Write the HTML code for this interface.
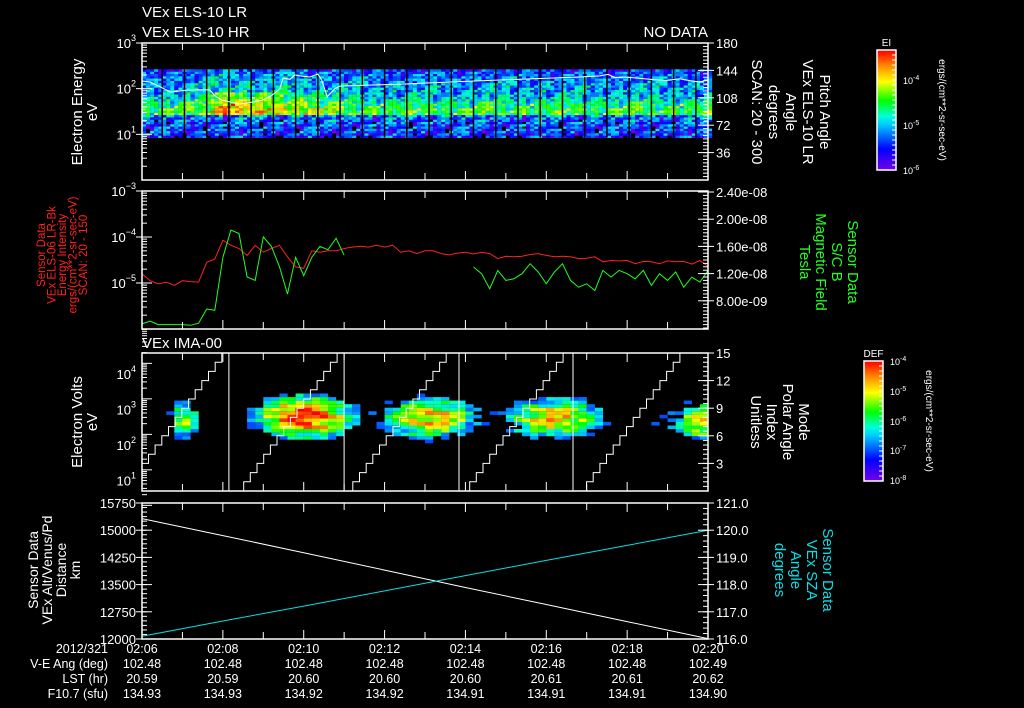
<!DOCTYPE html>
<html><head><meta charset="utf-8"><style>
html,body{margin:0;padding:0;background:#000;}
svg{display:block;font-family:"Liberation Sans",sans-serif;}
</style></head><body>
<svg id="s" width="1024" height="708" viewBox="0 0 1024 708" xmlns="http://www.w3.org/2000/svg">
<rect width="1024" height="708" fill="#000"/>
<g id="txt" fill="#fff" font-size="15">
 <text x="142" y="17">VEx ELS-10 LR</text>
 <text x="142" y="37">VEx ELS-10 HR</text>
 <text x="708" y="37" text-anchor="end">NO DATA</text>
 <text x="142" y="348">VEx IMA-00</text>
</g>
</svg>
<script>
const svgNS="http://www.w3.org/2000/svg";
const S=document.getElementById('s');
// ===== data arrays =====
const timeTicks=["02:06","02:08","02:10","02:12","02:14","02:16","02:18","02:20"];
const veAng=["102.48","102.48","102.48","102.48","102.48","102.48","102.48","102.49"];
const lstHr=["20.59","20.59","20.60","20.60","20.60","20.61","20.61","20.62"];
const f107=["134.93","134.93","134.92","134.92","134.91","134.91","134.91","134.90"];
// panel 2 (sampled every 0.2 min)
const redLogEI=[-4.80,-4.95,-5.02,-4.98,-5.05,-4.95,-4.97,-4.98,-4.55,-4.48,-4.07,-4.18,-4.25,-4.40,-4.18,-4.33,-4.25,-4.18,-4.43,-4.65,-4.68,-4.30,-4.33,-4.30,-4.30,-4.25,-4.22,-4.20,-4.22,-4.18,-4.22,-4.18,-4.33,-4.30,-4.36,-4.30,-4.30,-4.36,-4.39,-4.35,-4.33,-4.37,-4.33,-4.36,-4.47,-4.42,-4.43,-4.42,-4.38,-4.36,-4.40,-4.43,-4.42,-4.43,-4.47,-4.46,-4.43,-4.54,-4.51,-4.52,-4.51,-4.58,-4.53,-4.54,-4.58,-4.52,-4.54,-4.53,-4.59,-4.51,-4.64];
const greenB=[4.6,5.0,4.5,4.5,4.5,4.5,4.4,4.7,6.8,6.6,14.4,18.4,17.9,11.5,11.0,17.4,16.0,13.0,9.0,14.4,11.7,14.4,16.0,15.5,17.2,14.7,null,null,null,null,null,null,null,null,null,null,null,null,null,null,null,12.97,11.98,9.77,12.47,11.0,11.24,11.98,13.46,12.23,10.5,12.23,13.46,11.0,10.0,10.5,9.52,12.47,11.49,12.47,11.98,11.24,12.47,10.26,11.98,11.0,12.23,10.0,11.49,10.75,12.47];
// panel 1 white line
const wT=[0,0.2,0.45,0.7,1.06,1.43,1.68,1.8,1.98,2.42,2.8,2.97,3.2,3.41,3.49,3.66,3.78,3.9,4.15,4.35,4.45,4.58,4.77,4.9,5.39,6.38,7.62,8.85,10.09,10.83,11.33,11.53,11.7,11.95,12.56,12.94,13.3,13.55,13.8,14];
const wE=[147,140,110,84,92,95,94,70,56,46,52,56,70,100,170,160,200,190,180,210,150,66,100,114,118,125,140,155,170,180,190,205,175,180,160,150,165,150,140,155];
const elsLogE=[0.95,1.0,1.05,1.1,1.15,1.2,1.25,1.3,1.35,1.4,1.45,1.5,1.55,1.6,1.65,1.7,1.75,1.8,1.85,1.9,1.95,2.0,2.05,2.1,2.15,2.2,2.25,2.3,2.35,2.4];
const elsProfile=[-5.6,-5.5,-5.45,-5.45,-5.45,-5.4,-5.4,-5.35,-5.3,-5.25,-4.5,-4.45,-4.5,-4.6,-4.65,-4.7,-4.85,-4.95,-5.0,-5.05,-5.05,-5.1,-5.1,-5.1,-5.2,-5.2,-5.25,-5.3,-5.35,-5.45];
const elsBoostT=[0,0.5,1,1.5,1.8,2.2,2.6,3.0,3.5,4.0,4.5,5,6,7,14];
const elsBoost=[0,0,0,0.15,0.65,0.75,0.5,0.4,0.45,0.4,0.2,0.05,0,0,0];
const sweepGaps=[0.5,1.05,1.6,2.15,2.7,3.25,3.8,4.35,4.9,5.45,6.0,6.55,7.1,7.65,8.2,8.75,9.3,9.85,10.4,10.95,11.5,12.05,12.6,13.15,13.7];
const noiseTab=[0.31,-0.42,0.12,0.47,-0.18,-0.05,0.39,-0.33,0.22,-0.47,0.08,0.28,-0.25,0.44,-0.11,0.02,-0.38,0.35,0.15,-0.29,0.41,-0.07,-0.44,0.19,0.26,-0.15,0.05,-0.36,0.48,-0.22,0.11,0.33,-0.02,-0.49,0.24,-0.31,0.17];
// panel 3 ion blobs
const blobT=[1.06,4.03,7.12,10.2,13.9];
const blobLogE=[2.70,2.79,2.76,2.76,2.65];
const blobPeak=[-5.4,-4.2,-4.8,-4.9,-5.0];
const blobSpreadT=[0.3,0.9,0.95,1.0,0.6];
const haloSpreadT=[0.5,1.6,1.6,1.6,1.2];
const cycleStart=[-0.5,2.35,5.05,7.94,10.83];
const resetT=[2.15,5.0,7.84,10.66];
const stepDur=0.165;
// panel 4
const altT=[0,2,4,6,8,10,12,14];
const altKm=[15320,14850,14380,13900,13420,12950,12480,12010];
const szaDeg=[116.1,116.66,117.21,117.77,118.33,118.89,119.44,120.0];

// ===== helpers =====
function el(tag,attrs,parent){const e=document.createElementNS(svgNS,tag);for(const k in attrs)e.setAttribute(k,attrs[k]);(parent||S).appendChild(e);return e;}
const X0=142,X1=708;
const xT=t=>X0+t*(X1-X0)/14;
const P=[{t:43,b:180},{t:191,b:329},{t:353,b:491},{t:503,b:639}];
function cmap(v){
 v=Math.max(0,Math.min(1,v));
 const st=[[0,[120,0,230]],[0.18,[0,0,255]],[0.38,[0,200,255]],[0.45,[0,255,220]],[0.58,[0,255,0]],[0.74,[255,255,0]],[0.87,[255,140,0]],[1,[255,0,0]]];
 for(let i=1;i<st.length;i++){if(v<=st[i][0]){const a=st[i-1],b=st[i],f=(v-a[0])/(b[0]-a[0]);return 'rgb('+[0,1,2].map(k=>Math.round(a[1][k]+(b[1][k]-a[1][k])*f)).join(',')+')';}}
 return 'rgb(255,0,0)';
}
function interp(xs,ys,x){if(x<=xs[0])return ys[0];for(let i=1;i<xs.length;i++)if(x<=xs[i]){const f=(x-xs[i-1])/(xs[i]-xs[i-1]);return ys[i-1]+(ys[i]-ys[i-1])*f;}return ys[ys.length-1];}

// ===== Panel 1 spectrogram =====
const y1=lE=>180-(lE)*(137/3);
const g1=el('g',{});


for(let c=0;c<141;c++){
 const t=c*0.1;
 for(let r=0;r<elsLogE.length;r++){
  const n=noiseTab[(c*7+r*13)%37];
  const n2=noiseTab[(c*3+r*17+5)%37];
  const low=elsLogE[r]<1.42;
  let w=(elsLogE[r]>=1.42&&elsLogE[r]<=1.9)?1:0.3;
  if(low)w=0;
  let v=elsProfile[r]+interp(elsBoostT,elsBoost,t)*w+n*(low?1.2:0.9)+n2*0.4;
  if(low&&v<-6.0)continue;
  const yy=y1(elsLogE[r]+0.025),hh=y1(elsLogE[r]-0.025)-yy;
  const rc=el('rect',{x:xT(t).toFixed(1),y:yy.toFixed(1),width:4.1,height:(hh+0.2).toFixed(1),fill:cmap((v+6)/2.67)},g1);
  
  
 }
}
sweepGaps.forEach(t=>{const l=el('line',{x1:xT(t),x2:xT(t),y1:y1(2.42),y2:y1(0.93),stroke:'#000','stroke-width':1.5},g1);
 
 });
let d='';wT.forEach((t,i)=>{d+=(i?'L':'M')+xT(t).toFixed(1)+','+y1(Math.log10(wE[i])).toFixed(1);});
const wl=el('path',{d:d,stroke:'#fff',fill:'none','stroke-width':1});



// ===== Panel 2 =====
const y2L=l=>191+(-3-l)*46;
const y2R=v=>192+(24-v)*136/20;
d='';redLogEI.forEach((v,i)=>{d+=(i?'L':'M')+xT(i*0.2).toFixed(1)+','+y2L(v).toFixed(1);});
const rl=el('path',{d:d,stroke:'#ff2020',fill:'none','stroke-width':1});


d='';let pen=false;greenB.forEach((v,i)=>{if(v===null){pen=false;return;}d+=(pen?'L':'M')+xT(i*0.2).toFixed(1)+','+y2R(v).toFixed(1);pen=true;});
const gl=el('path',{d:d,stroke:'#20ff20',fill:'none','stroke-width':1});



// ===== Panel 3 =====
const y3L=l=>374+(4-l)*35.5;
const y3R=m=>491-m*138/15;
const g3=el('g',{});


for(let c=0;c<70;c++){
 const t=c*0.2+0.1;
 for(let r=0;r<30;r++){
  const lE=1.6+r*0.1;
  let best=-99;
  blobT.forEach((bt,i)=>{
   const dt=(t-bt)/blobSpreadT[i],de=(lE-blobLogE[i])/0.45;
   best=Math.max(best,blobPeak[i]-1.3*(dt*dt+de*de));
   const ht=(t-bt)/haloSpreadT[i],he=(lE-blobLogE[i])/0.4;
   best=Math.max(best,-6.5-1.0*(ht*ht+he*he));
  });
  const n=noiseTab[(c*11+r*5)%37];
  const v=best+n*1.3;
  if(v<-7.0)continue;
  const rc=el('rect',{x:xT(t-0.1).toFixed(1),y:y3L(lE+0.05).toFixed(1),width:8.2,height:3.6,fill:cmap((v+8)/4)},g3);
  
  
 }
}
d='';
cycleStart.forEach((cs,i)=>{
 let first=true;
 for(let k=0;k<=15;k++){
  let ta=cs+k*stepDur,tb=cs+(k+1)*stepDur;
  const end=i<resetT.length?resetT[i]:14;
  if(tb<0)continue; if(ta<0)ta=0; if(ta>end)break; if(tb>end||k==15)tb=Math.min(end,k==15?end:tb);
  d+=(first?'M':'L')+xT(ta).toFixed(1)+','+y3R(k).toFixed(1)+'L'+xT(tb).toFixed(1)+','+y3R(k).toFixed(1);
  first=false;
 }
 if(i<resetT.length){d+='L'+xT(resetT[i]).toFixed(1)+','+y3R(0)+'L'+xT(cycleStart[i+1]).toFixed(1)+','+y3R(0);}
});
const ml=el('path',{d:d,stroke:'#fff',fill:'none','stroke-width':1});



// ===== Panel 4 =====
const y4L=v=>639-(v-12000)*136/3750;
const y4R=v=>639-(v-116)*136/5;
d='';altT.forEach((t,i)=>{d+=(i?'L':'M')+xT(t).toFixed(1)+','+y4L(altKm[i]).toFixed(1);});
const al=el('path',{d:d,stroke:'#fff',fill:'none','stroke-width':1});


d='';altT.forEach((t,i)=>{d+=(i?'L':'M')+xT(t).toFixed(1)+','+y4R(szaDeg[i]).toFixed(1);});
const sl=el('path',{d:d,stroke:'#00e0e8',fill:'none','stroke-width':1});



// ===== axes / frames =====
function txt(x,y,s,o){const e=el('text',Object.assign({x:x,y:y,fill:'#fff','font-size':13},o||{}));e.textContent=s;return e;}
P.forEach((p,pi)=>{
 const f=el('rect',{x:X0,y:p.t,width:X1-X0,height:p.b-p.t,fill:'none',stroke:'#fff','stroke-width':1.5});
 
 
 for(let m=0;m<=14;m++){const x=xT(m);const L=m%2?7:9;
  el('line',{x1:x,x2:x,y1:p.b,y2:p.b-L,stroke:'#fff'});el('line',{x1:x,x2:x,y1:p.t,y2:p.t+L,stroke:'#fff'});}
});
function logAxis(yf,lo,hi,labels,sz){
 for(let dcd=lo;dcd<hi;dcd++){for(let k=1;k<10;k++){const y=yf(dcd+Math.log10(k));el('line',{x1:X0,x2:X0+(k==1?10:5),y1:y,y2:y,stroke:'#fff'});}}
 for(let dcd=lo;dcd<=hi;dcd++){if(!labels.includes(dcd))continue;const y=yf(dcd);
  const t=txt(X0-6,y+5,'10',{'text-anchor':'end','font-size':sz});
  const e=el('tspan',{dy:-7,'font-size':9});e.textContent=(dcd<0?'−':'')+Math.abs(dcd);t.appendChild(e);
  el('line',{x1:X0-6,x2:X0,y1:y,y2:y,stroke:'#fff'});}
}
logAxis(y1,0,3,[1,2,3],13);
logAxis(y2L,-6,-3,[-5,-4,-3],13);
logAxis(y3L,0.3,4.6,[],13);
[1,2,3,4].forEach(dcd=>{const y=y3L(dcd);const t=txt(X0-6,y+5,'10',{'text-anchor':'end'});const e=el('tspan',{dy:-7,'font-size':9});e.textContent=dcd;t.appendChild(e);});
function linR(yf,lo,hi,minor,majors,fmt){
 for(let v=lo;v<=hi+1e-9;v+=minor){const y=yf(v);el('line',{x1:X1,x2:X1-5,y1:y,y2:y,stroke:'#fff'});}
 majors.forEach(v=>{const y=yf(v);el('line',{x1:X1,x2:X1-10,y1:y,y2:y,stroke:'#fff'});el('line',{x1:X1,x2:X1+6,y1:y,y2:y,stroke:'#fff'});
  txt(X1+8,y+5,fmt(v),{'font-size':13});});
}
linR(v=>180-v*137/180,0,180,4.5,[36,72,108,144,180],v=>String(v));
linR(y2R,4,24,0.5,[8,12,16,20,24],v=>(v<10?v.toFixed(2)+'e-09':(v/10).toFixed(2)+'e-08'));
linR(y3R,0,15,0.5,[3,6,9,12,15],v=>String(v));
linR(y4R,116,121,0.2,[116,117,118,119,120,121],v=>v.toFixed(1));
for(let v=12000;v<=15750;v+=125){const y=y4L(v);el('line',{x1:X0,x2:X0+5,y1:y,y2:y,stroke:'#fff'});}
[12000,12750,13500,14250,15000,15750].forEach(v=>{const y=y4L(v);el('line',{x1:X0-6,x2:X0+10,y1:y,y2:y,stroke:'#fff'});txt(X0-6,y+5,String(v),{'text-anchor':'end','font-size':13});});
const rows=[["2012/321",timeTicks,653],["V-E Ang (deg)",veAng,668],["LST (hr)",lstHr,683],["F10.7 (sfu)",f107,698]];
rows.forEach(r=>{const a=txt(108,r[2],r[0],{'text-anchor':'end','font-size':12.5});
 
 
 r[1].forEach((s,i)=>{const b=txt(xT(i*2),r[2],s,{'text-anchor':'middle','font-size':12.5});
  
  });});
function vtitle(cx,cy,lines,color,rot,sz,gap){
 const g=el('g',{transform:'translate('+cx+','+cy+') rotate('+rot+')',fill:color,'font-size':sz,'text-anchor':'middle'});
 lines.forEach((s,i)=>{const t=el('text',{x:0,y:i*gap},g);t.textContent=s;});
 return g;
}
let g;
g=vtitle(82,112,["Electron Energy","eV"],'#fff',-90,15,15);
g=vtitle(45,255,["Sensor Data","VEx ELS-06 LR-Bk","Energy Intensity","ergs/(cm**2-sr-sec-eV)","SCAN: 20 - 150"],'#ff2020',-90,11.5,10.5);
g=vtitle(82,422,["Electron Volts","eV"],'#fff',-90,15,15);
g=vtitle(38,570,["Sensor Data","VEx Alt/Venus/Pd","Distance","km"],'#fff',-90,14,14);
g=vtitle(820,112,["Pitch Angle","VEx ELS-10 LR","Angle","degrees","SCAN: 20 - 300"],'#fff',90,15,17);
g=vtitle(848,262,["Sensor Data","S/C B","Magnetic Field","Tesla"],'#20ff20',90,15,16);
g=vtitle(799,422,["Mode","Polar Angle","Index","Unitless"],'#fff',90,15,16);
g=vtitle(823,570,["Sensor Data","VEx SZA","Angle","degrees"],'#00e0e8',90,15,16);
function cbar(x,y,w,h,label,ticks,name){
 for(let i=0;i<h;i++){el('rect',{x:x,y:y+i,width:w,height:1.2,fill:cmap(1-i/h)});}
 const f=el('rect',{x:x,y:y,width:w,height:h,fill:'none',stroke:'#fff','stroke-width':1.5});
 
 
 for(let i=0;i<=24;i++){const yy=y+i*h/24;el('line',{x1:x+w,x2:x+w-4,y1:yy,y2:yy,stroke:'#fff'});}
 txt(x+w/2,y-4,label,{'text-anchor':'middle','font-size':10});
 ticks.forEach(tk=>{const t=txt(x+w+7,tk[0]+4,'10',{'font-size':9});const e=el('tspan',{dy:-4,'font-size':7});e.textContent=tk[1];t.appendChild(e);});
 const u=el('text',{transform:'translate('+(x+w+43)+','+(y+h/2)+') rotate(90)','text-anchor':'middle','font-size':10,fill:'#fff'});u.textContent='ergs/(cm**2-sr-sec-eV)';
}
cbar(877,50,19,120,'EI',[[80,'-4'],[125,'-5'],[170,'-6']],'colorbar-ei');
cbar(864,361,19,120,'DEF',[[361,'-4'],[391,'-5'],[421,'-6'],[450,'-7'],[480,'-8']],'colorbar-def');
</script>
</body></html>
